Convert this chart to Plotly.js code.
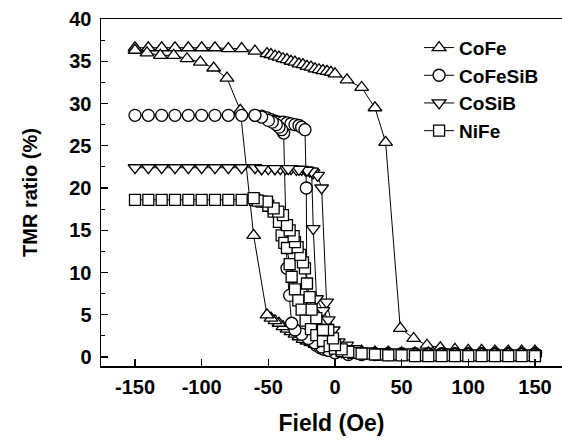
<!DOCTYPE html>
<html>
<head>
<meta charset="utf-8">
<script src="https://cdn.plot.ly/plotly-3.0.1.min.js"></script>
<style>html,body{margin:0;padding:0;background:#fff;}#chart{width:562px;height:446px;}</style>
</head>
<body>
<div id="chart"></div>
<script>
// ---- Data; each loop: sweep -150 -> +150, then +150 -> -150 ----
const seriesNames = ['CoFe', 'CoFeSiB', 'CoSiB', 'NiFe'];

const cofeField = [-150,-140,-130,-120,-110,-100,-90,-80,-70,-60,
  -51,-48,-45,-42,-39,-36,-33,-30,-27,-24,-21,-18,-15,-12,-9,-6,-3,0,
  9,20,30,38,49,59,69,79,90,100,110,120,130,140,150,
  150,140,130,120,110,100,90,80,70,60,50,40,30,20,10,0,
  -3,-6,-9,-12,-15,-18,-21,-24,-27,-30,-33,-36,-39,-42,-45,-48,-51,
  -61,-71,-81,-91,-101,-111,-121,-131,-141,-150];
const cofeTMR = [36.6,36.6,36.6,36.6,36.6,36.6,36.6,36.5,36.5,36.2,
  35.9,35.8,35.6,35.5,35.3,35.2,35.0,34.9,34.7,34.6,34.4,34.3,34.1,34.0,33.9,33.8,33.7,33.5,
  32.8,31.9,29.5,25.4,3.4,2.2,1.4,1.1,0.9,0.8,0.8,0.7,0.7,0.7,0.7,
  0.4,0.4,0.4,0.4,0.4,0.4,0.4,0.4,0.5,0.5,0.5,0.6,0.6,0.7,0.7,0.8,
  0.9,1.0,1.1,1.3,1.5,1.7,1.9,2.1,2.4,2.7,3.0,3.3,3.6,4.0,4.3,4.6,5.0,
  14.4,29.2,33.0,34.2,34.9,35.3,35.7,35.7,36.0,36.3];

const cofesibField = [-150,-140,-130,-120,-110,-100,-90,-80,-70,-60,
  -55,-51,-48,-45,-42,-39,-36,-33,-30,-27,-25,-22.5,-21.5,-21,-19,-17,-14,-11,-8,-5,-2,1,
  10,20,30,40,50,60,70,80,90,100,110,120,130,140,150,
  150,140,130,120,110,100,90,80,70,60,50,40,30,20,10,0,
  -5,-10,-15,-20,-25,-30,-32.5,-34,-36,-38.5,-40,-42,-44,-47,-50,-55,-60];
const cofesibTMR = [28.6,28.6,28.6,28.6,28.6,28.6,28.6,28.6,28.6,28.6,
  28.5,28.3,28.1,27.9,27.8,27.8,27.7,27.6,27.5,27.4,27.2,26.9,20.0,4.6,2.6,1.9,1.4,1.1,0.9,0.8,0.7,0.6,
  0.5,0.4,0.4,0.4,0.4,0.4,0.4,0.4,0.4,0.4,0.4,0.4,0.4,0.4,0.4,
  0.3,0.3,0.3,0.3,0.3,0.3,0.3,0.3,0.3,0.3,0.3,0.3,0.3,0.3,0.3,0.5,
  0.8,1.2,1.7,2.2,2.7,3.2,4.0,7.3,10.5,26.5,26.9,27.2,27.5,27.8,28.0,28.4,28.6];

const cosibField = [-150,-140,-130,-120,-110,-100,-90,-80,-70,-60,
  -55,-50,-45,-41,-37,-33,-29,-25,-22,-19,-16.5,-13,-10,-6.3,-1.3,2.5,8.8,
  15,25,35,45,55,65,75,85,95,105,115,125,135,145,150,
  150,140,130,120,110,100,90,80,70,60,50,40,30,20,10,5,0,
  -5,-9,-13.8,-16.3,-17.5,-21,-27,-35,-45,-55];
const cosibTMR = [22.4,22.4,22.4,22.4,22.4,22.4,22.4,22.4,22.4,22.4,
  22.3,22.3,22.3,22.3,22.3,22.3,22.2,22.2,22.1,22.0,21.8,21.5,20.0,6.5,3.2,1.8,1.4,
  1.0,0.7,0.6,0.5,0.5,0.4,0.4,0.4,0.4,0.4,0.4,0.4,0.4,0.4,0.4,
  0.2,0.2,0.2,0.2,0.2,0.2,0.2,0.2,0.2,0.2,0.3,0.3,0.3,0.4,0.5,0.6,1.2,
  4.4,5.5,6.9,15.2,22.0,22.1,22.2,22.3,22.3,22.3];

const nifeField = [-150,-140,-130,-120,-110,-100,-90,-80,-70,-60,
  -55,-50,-46,-42,-40,-38,-36,-34,-32.5,-30,-27.5,-25,-22,-18,-14,-9,-4,0,
  5,15,25,35,45,55,65,75,85,95,105,115,125,135,145,150,
  150,140,130,120,110,100,90,80,70,60,50,40,30,20,10,5,0,
  -1.5,-5,-9,-14,-17.5,-19,-21,-22.5,-24,-26,-28,-30,-31,-34,-36,-39,-42.5,-46,-51,-58,-61];
const nifeTMR = [18.6,18.6,18.6,18.6,18.6,18.6,18.6,18.6,18.6,18.6,
  18.4,17.9,17.2,16.0,14.4,13.5,12.9,11.0,9.5,8.0,6.7,5.6,4.3,3.3,2.6,1.9,1.3,1.0,
  0.7,0.5,0.4,0.3,0.3,0.3,0.2,0.2,0.2,0.2,0.2,0.2,0.2,0.2,0.2,0.2,
  0.1,0.1,0.1,0.1,0.1,0.1,0.1,0.1,0.1,0.1,0.2,0.2,0.3,0.4,0.6,0.9,1.4,
  2.2,3.2,3.2,4.6,5.6,7.1,8.7,10.5,11.2,12.1,13.0,13.6,14.3,15.0,15.6,16.8,17.2,17.6,18.4,18.5,18.8];

const xTickVals = [-150,-100,-50,0,50,100,150];
const xTickText = ['-150','-100','-50','0','50','100','150'];
const yTickVals = [0,5,10,15,20,25,30,35,40];
const yTickText = ['0','5','10','15','20','25','30','35','40'];
const yMinorVals = [2.5,7.5,12.5,17.5,22.5,27.5,32.5,37.5];

// ---- Styling ----
const FONT = 'Liberation Sans, Arial, Helvetica, sans-serif';
const symbols = ['triangle-up', 'circle', 'triangle-down', 'square'];
const sizes = [12, 12, 12, 11];
const fields = [cofeField, cofesibField, cosibField, nifeField];
const values = [cofeTMR, cofesibTMR, cosibTMR, nifeTMR];

const traces = seriesNames.map((name, i) => ({
  type: 'scatter',
  mode: 'lines+markers',
  name: name,
  x: fields[i],
  y: values[i],
  line: {color: '#000', width: 1},
  marker: {symbol: symbols[i], size: sizes[i], color: '#fff', line: {color: '#000', width: 1.3}},
  cliponaxis: false
}));

const layout = {
  width: 562, height: 446,
  margin: {l: 101, r: 0, t: 19, b: 80, pad: 0},
  paper_bgcolor: '#fff', plot_bgcolor: '#fff',
  font: {family: FONT, color: '#000', size: 18, weight: 'bold'},
  showlegend: true,
  legend: {
    x: 0.69, y: 0.972, xanchor: 'left', yanchor: 'top',
    bgcolor: 'rgba(0,0,0,0)', borderwidth: 0,
    font: {family: FONT, size: 19, color: '#000', weight: 'bold'},
    tracegroupgap: 0, itemsizing: 'trace', itemwidth: 30
  },
  xaxis: {
    range: [-175.5, 170.3],
    tickmode: 'array', tickvals: xTickVals, ticktext: xTickText,
    ticks: 'inside', ticklen: 7, tickwidth: 1.3, tickcolor: '#000',
    showline: true, linewidth: 1.5, linecolor: '#000', mirror: true,
    showgrid: false, zeroline: false,
    tickfont: {family: FONT, size: 20, color: '#000', weight: 'bold'},
    ticklabelstandoff: 2,
    title: {text: 'Field (Oe)', font: {family: FONT, size: 23, color: '#000', weight: 'bold'}, standoff: 18}
  },
  yaxis: {
    range: [-1.06, 40],
    tickmode: 'array', tickvals: yTickVals, ticktext: yTickText,
    ticks: 'inside', ticklen: 7, tickwidth: 1.3, tickcolor: '#000',
    minor: {tickvals: yMinorVals, ticks: 'inside', ticklen: 4, tickwidth: 1, tickcolor: '#000'},
    showline: true, linewidth: 1.5, linecolor: '#000', mirror: false,
    showgrid: false, zeroline: false,
    tickfont: {family: FONT, size: 20, color: '#000', weight: 'bold'},
    ticklabelstandoff: 4,
    title: {text: 'TMR ratio (%)', font: {family: FONT, size: 20, color: '#000', weight: 'bold'}, standoff: 26}
  }
};

Plotly.newPlot('chart', traces, layout, {displayModeBar: false, staticPlot: true});
</script>
</body>
</html>
